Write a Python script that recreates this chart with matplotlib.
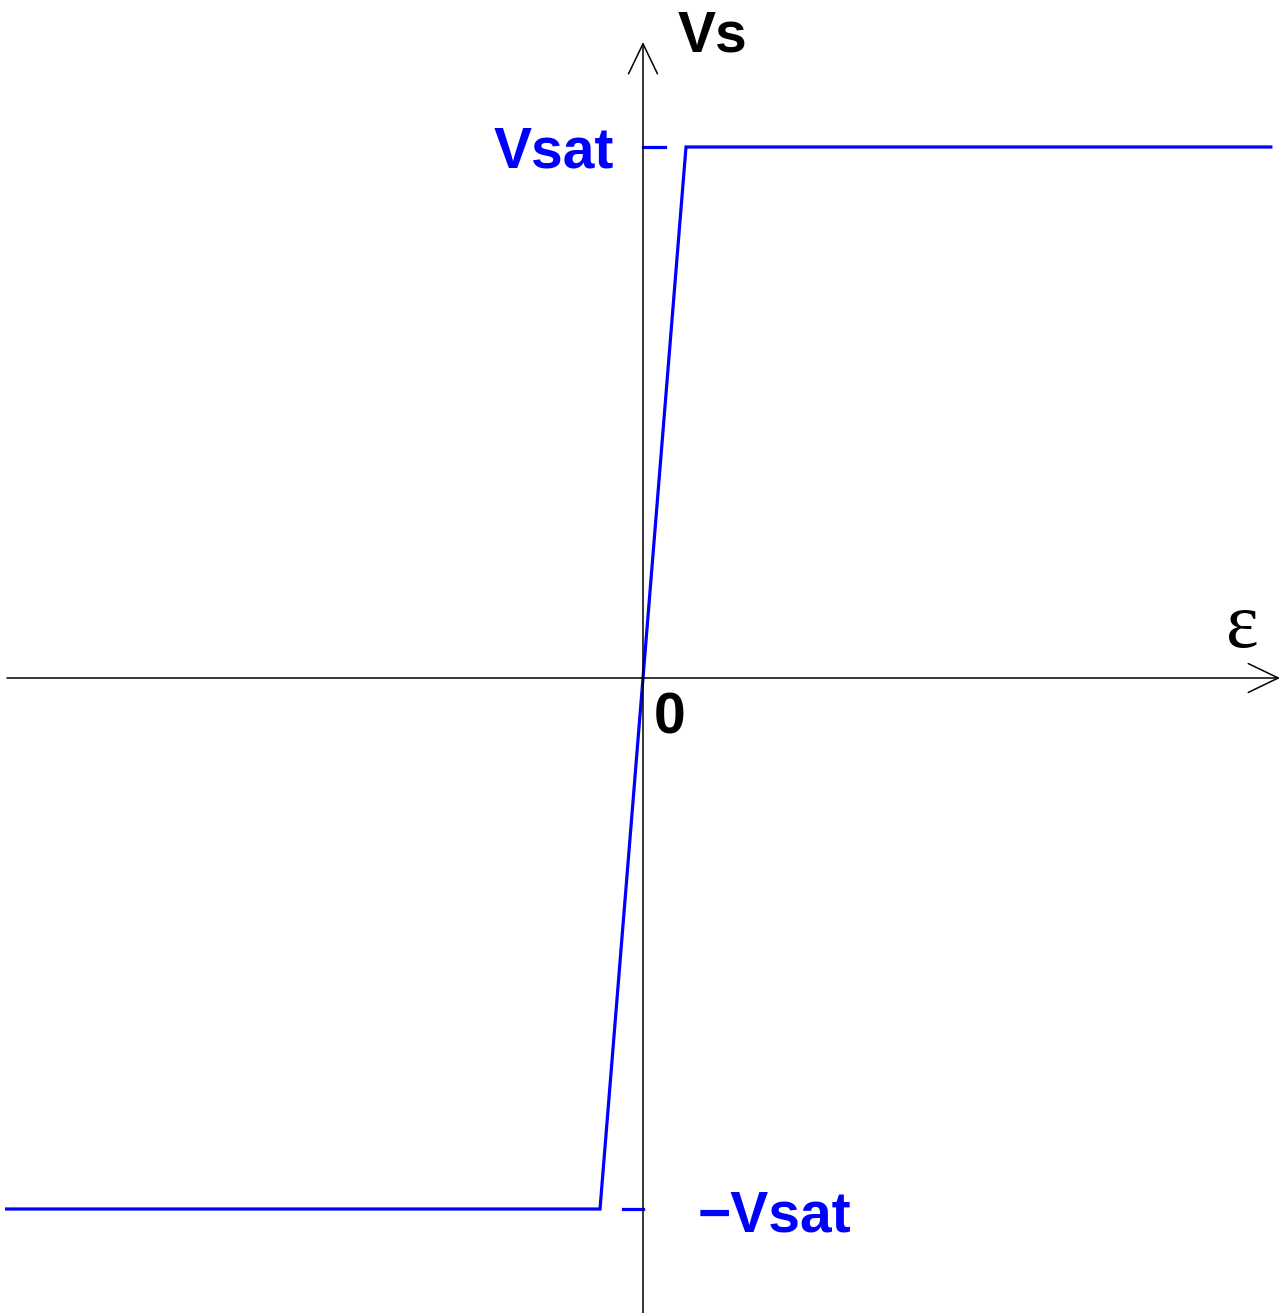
import matplotlib
matplotlib.use("Agg")
import matplotlib.pyplot as plt

# transfer characteristic of an ideal op-amp with saturation
eps = [-14.8, -1.0, 1.0, 14.6]
vs = [-1.0, -1.0, 1.0, 1.0]
vsat = 1.0
labels = ["Vs", "Vsat", "\u2212Vsat", "0", "\u03b5"]

blue = "#0000ff"

fig = plt.figure(figsize=(12.84, 13.13), dpi=100)
ax = fig.add_axes([0, 0, 1, 1])
ax.set_xlim(-643 / 43, 641 / 43)
ax.set_ylim(-635 / 531, 678 / 531)
ax.axis("off")

# axes with open arrow heads
arrow = dict(arrowstyle="->,head_length=21.6,head_width=10.4", mutation_scale=1,
             lw=1.1, color="black", shrinkA=0, shrinkB=0)
ax.annotate("", xy=(637 / 43, 0), xytext=(-636 / 43, 0), arrowprops=arrow)
ax.annotate("", xy=(0, 636 / 531), xytext=(0, -640 / 531), arrowprops=arrow)

# characteristic
ax.plot(eps, vs, color=blue, lw=2.3, solid_joinstyle="miter")

# saturation ticks on the Vs axis
ax.plot([0, 0.5], [vsat, vsat], color=blue, lw=2.3)
ax.plot([-0.47, 0], [-vsat, -vsat], color=blue, lw=2.3)

bold = dict(family="Liberation Sans", fontweight="bold", fontsize=41)
ax.text(0.81, 1.18, labels[0], color="black", ha="left", va="baseline", **bold)
ax.text(-0.68, vsat - 21 / 531, labels[1], color=blue, ha="right", va="baseline", **bold)
ax.text(1.28, -vsat - 22 / 531, labels[2], color=blue, ha="left", va="baseline", **bold)
ax.text(0.26, -0.104, labels[3], color="black", ha="left", va="baseline", **bold)
ax.text(13.55, 0.058, labels[4], color="black", ha="left", va="baseline",
        family="Liberation Serif", fontsize=56)

fig.savefig("out.png", dpi=100)
